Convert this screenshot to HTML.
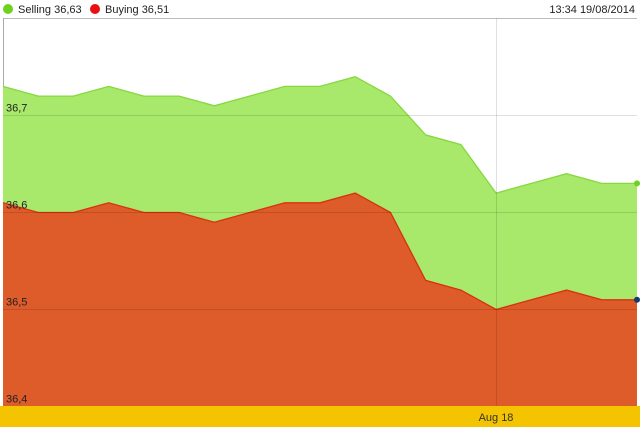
<!DOCTYPE html>
<html><head><meta charset="utf-8"><style>
body{margin:0;background:#fff;font-family:"Liberation Sans",sans-serif;}
svg{display:block}
</style></head><body>
<svg width="640" height="433">
<g>
<circle cx="8" cy="9" r="5" fill="#6fd11f"/>
<text x="18" y="13" font-size="11" fill="#222">Selling 36,63</text>
<circle cx="95" cy="9" r="5" fill="#e81010"/>
<text x="105" y="13" font-size="11" fill="#222">Buying 36,51</text>
<text x="635" y="13" font-size="11" fill="#222" text-anchor="end">13:34 19/08/2014</text>
</g>
<line x1="3" y1="18.5" x2="637" y2="18.5" stroke="#bbb"/>
<line x1="3.5" y1="18" x2="3.5" y2="406" stroke="#aaa"/>
<g id="plot"></g>
<rect x="0" y="406" width="640" height="21" fill="#f5c400"/>
<text x="496" y="421" font-size="11" fill="#333" text-anchor="middle">Aug 18</text>
</svg>
<script>
const selling=[36.73,36.72,36.72,36.73,36.72,36.72,36.71,36.72,36.73,36.73,36.74,36.72,36.68,36.67,36.62,36.63,36.64,36.63,36.63];
const buying=[36.61,36.60,36.60,36.61,36.60,36.60,36.59,36.60,36.61,36.61,36.62,36.60,36.53,36.52,36.50,36.51,36.52,36.51,36.51];
const yTicks=[36.7,36.6,36.5,36.4];
const yTickLabels=["36,7","36,6","36,5","36,4"];
const NS="http://www.w3.org/2000/svg";
const g=document.getElementById('plot');
const x=i=>3+i*(634/(selling.length-1));
const y=v=>212.5-970*(v-36.6);
function mk(t,a){const e=document.createElementNS(NS,t);for(const k in a)e.setAttribute(k,a[k]);g.appendChild(e);return e;}
function area(d,fill,stroke,name){
 let p=d.map((v,i)=>x(i)+","+y(v)).join(" ");
 const a=mk('polygon',{points:x(0)+",406 "+p+" "+x(d.length-1)+",406",fill:fill});
 
 
 const l=mk('polyline',{points:p,fill:'none',stroke:stroke,'stroke-width':1.3});
 
 
}
area(selling,'#a8e86a','#86d83e','selling');
area(buying,'#de5b2a','#d8320e','buying');
yTicks.forEach((t,i)=>{
 const l=mk('line',{x1:3,x2:637,y1:y(t),y2:y(t),stroke:'rgba(0,0,0,0.12)'});
 
 
 const tx=mk('text',{x:6,y:y(t)-4,'font-size':11,fill:'#222'});
 tx.textContent=yTickLabels[i];
 
 
});
const vl=mk('line',{x1:496.5,x2:496.5,y1:18,y2:406,stroke:'rgba(0,0,0,0.12)'});


const d1=mk('circle',{cx:637,cy:y(selling[selling.length-1]),r:3,fill:'#6fd11f'});


const d2=mk('circle',{cx:637,cy:y(buying[buying.length-1]),r:3,fill:'#1a3a6a'});


</script>
</body></html>
